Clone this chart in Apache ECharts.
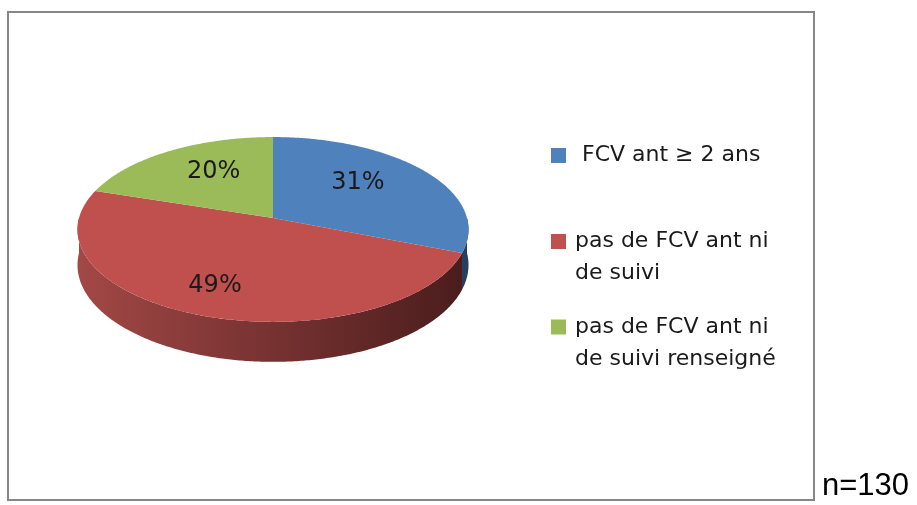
<!DOCTYPE html>
<html>
<head>
<meta charset="utf-8">
<script src="https://cdn.jsdelivr.net/npm/echarts@6/dist/echarts.min.js"></script>
<style>
  html, body { margin: 0; padding: 0; background: #fff; }
  #chart { width: 917px; height: 505px; }
</style>
</head>
<body>
<div id="chart"></div>
<script>
// data
const categories = ['FCV ant ≥ 2 ans', 'pas de FCV ant ni de suivi', 'pas de FCV ant ni de suivi renseigné']
const legendLines = [[' FCV ant ≥ 2 ans'], ['pas de FCV ant ni', 'de suivi'], ['pas de FCV ant ni', 'de suivi renseigné']]
const percents = [31, 49, 20]
const sampleLabel = 'n=130'

// styles
const topColors = ['#4f81bd', '#c0504d', '#9bbb59']
const sideColors = [['#3c6596', '#263f5e'], ['#a24846', '#4a1c1c'], ['#7f9a48', '#4d5e2b']]
const labelDist = [0.55, 0.8, 0.55]

// pseudo-3D pie geometry (slight perspective)
const cx = 273, cy = 218, R = 194, Ry = 91, depth = 35, persp = 0.124

const project = (theta, k, dy) => {
  const v = -Math.cos(theta) * k
  const f = 1 / (1 - persp * v)
  return [cx + R * k * Math.sin(theta) * f, cy + (Ry * v + dy) * f]
}

const total = percents.reduce((a, b) => a + b, 0)
const slices = []
let acc = 0
percents.forEach((p, i) => {
  const a0 = acc / total * Math.PI * 2
  acc += p
  slices.push([a0, acc / total * Math.PI * 2, p])
})

const arc = (a0, a1, dy) => {
  const pts = []
  const n = Math.max(2, Math.ceil((a1 - a0) / 0.01))
  for (let j = 0; j <= n; j++) pts.push(project(a0 + (a1 - a0) * j / n, 1, dy))
  return pts
}

const renderItem = (params, api) => {
  const i = params.dataIndex
  const a0 = api.value(0), a1 = api.value(1)
  const children = []
  // visible front side wall
  const s = Math.max(a0, Math.PI / 2), e = Math.min(a1, Math.PI * 1.5)
  if (e > s) {
    const pts = arc(s, e, 0).concat(arc(s, e, depth).reverse())
    children.push({
      type: 'polygon', z2: 1,
      shape: { points: pts },
      style: {
        fill: new echarts.graphic.LinearGradient(cx - R, 0, cx + R, 0, [
          { offset: 0, color: sideColors[i][0] },
          { offset: 1, color: sideColors[i][1] }
        ], true)
      }
    })
  }
  // top face
  children.push({
    type: 'polygon', z2: 2,
    shape: { points: [[cx, cy]].concat(arc(a0, a1, 0)) },
    style: { fill: topColors[i] }
  })
  // label
  const mid = (a0 + a1) / 2
  const lp = project(mid, labelDist[i], 0)
  children.push({
    type: 'text', z2: 3,
    x: lp[0], y: lp[1] - 8,
    style: {
      text: api.value(2) + '%',
      fill: '#1a1a1a',
      font: '24px "DejaVu Sans"',
      align: 'center', verticalAlign: 'middle'
    }
  })
  return { type: 'group', children }
}

const legendY = [155.5, 241.5, 327]
const graphics = [
  {
    type: 'rect', z: -1,
    shape: { x: 8, y: 12, width: 806, height: 488 },
    style: { fill: '#fff', stroke: '#878787', lineWidth: 2 }
  },
  {
    type: 'text', x: 822, y: 502,
    style: { text: sampleLabel, font: '31px "Liberation Sans"', fill: '#000', verticalAlign: 'bottom' }
  }
]
categories.forEach((c, i) => {
  graphics.push({
    type: 'rect',
    shape: { x: 551, y: legendY[i] - 7.5, width: 15, height: 15 },
    style: { fill: topColors[i] }
  })
  graphics.push({
    type: 'text', x: 575, y: legendY[i] - 16,
    style: {
      text: legendLines[i].join('\n'),
      font: '22px "DejaVu Sans"', lineHeight: 32,
      fill: '#1a1a1a', verticalAlign: 'top'
    }
  })
})

const chart = echarts.init(document.getElementById('chart'))
chart.setOption({
  backgroundColor: '#fff',
  animation: false,
  graphic: graphics,
  series: [{
    type: 'custom',
    coordinateSystem: 'none',
    name: 'FCV',
    data: slices.map((s, i) => ({ name: categories[i], value: s })),
    renderItem
  }]
})
</script>
</body>
</html>
